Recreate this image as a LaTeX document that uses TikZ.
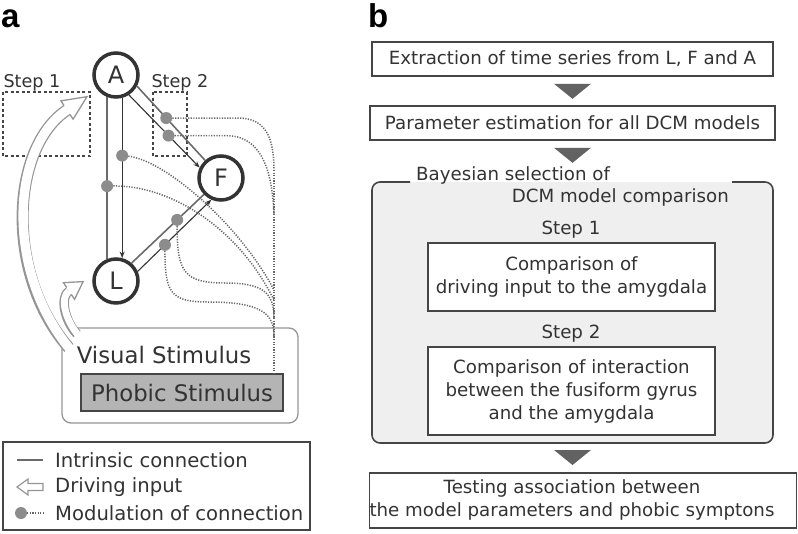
\documentclass[tikz,border=0pt]{standalone}
\usepackage{fontspec}
\setmainfont{DejaVu Sans}
\newfontfamily\labfont{Liberation Sans}
\usetikzlibrary{calc,arrows.meta}
\definecolor{ink}{HTML}{333333}
\definecolor{edge}{HTML}{454545}
\definecolor{agray}{HTML}{959595}
\definecolor{dotc}{HTML}{8C8C8C}
\definecolor{modc}{HTML}{666666}
\definecolor{bgfill}{HTML}{EFEFEF}
\definecolor{phob}{HTML}{B4B4B4}
\definecolor{tri}{HTML}{626262}
\definecolor{plainc}{HTML}{6A6A6A}
\newcommand\drivehead[5]{%
  \fill[white] ($(#2)!#4!90:(#1)$) -- ($(#2)!-#3!(#1)$) -- ($(#2)!#4!-90:(#1)$) -- cycle;
  \draw[agray, line width=1.3pt, line join=miter]
    ($(#2)!#5!90:(#1)$) -- ($(#2)!#4!90:(#1)$) -- ($(#2)!-#3!(#1)$) -- ($(#2)!#4!-90:(#1)$) -- ($(#2)!#5!-90:(#1)$);}
\begin{document}
\begin{tikzpicture}[x=1pt,y=-1pt,
  region/.style={circle, draw=ink, line width=3.5pt, minimum size=44pt, inner sep=0pt, fill=white,
    font=\fontsize{24}{24}\selectfont, text=ink},
  plainline/.style={draw=plainc, line width=1.6pt},
  arrline/.style={draw=ink, line width=1.1pt, -{Stealth[length=6.5pt,width=5pt]}},
  moddot/.style={circle, fill=dotc, minimum size=12pt, inner sep=0pt},
  modline/.style={draw=modc, line width=1.5pt, dash pattern=on 1.2pt off 1.4pt},
  stepbox/.style={draw=edge, line width=1.2pt, dash pattern=on 3pt off 2.5pt},
  txt/.style={text=ink, inner sep=0pt, align=center},
  box/.style={draw=edge, line width=1.6pt, fill=white, align=center, text=ink,
    font=\fontsize{18.2}{23}\selectfont, inner sep=0pt},
  pb/.style={text=ink, inner sep=0pt, font=\fontsize{18.2}{23}\selectfont, align=center},
  lab/.style={inner sep=0pt, anchor=base west, font=\labfont\bfseries\fontsize{33}{33}\selectfont, text=black}
]
\useasboundingbox (0,0) rectangle (798,533);

% ---------------- panel labels
\node[lab] (la) at (1,27) {a};
\node[lab] (lb) at (368,27) {b};

% ---------------- panel a: step boxes
\draw[stepbox] (3,92) rectangle (90,156);
\draw[stepbox] (153,92) rectangle (187,156);
\node[txt, anchor=base, font=\fontsize{17.6}{17.6}\selectfont] (st1) at (32,87) {Step 1};
\node[txt, anchor=base, font=\fontsize{17.6}{17.6}\selectfont] (st2) at (180,87) {Step 2};

% ---------------- regions
\node[region] (A) at (116,75) {A};
\node[region] (F) at (221,178) {F};
\node[region] (L) at (116,281) {L};

% intrinsic connections
\draw[plainline] (A.-112) -- (L.112);
\draw[arrline] (A.-75) -- (L.75);
\draw[plainline] (A.-28) -- (F.132);
\draw[arrline] (A.-57) -- (F.154);
\draw[plainline] (L.49) -- (F.224);
\draw[arrline] (L.24) -- (F.246);

% ---------------- visual stimulus
\coordinate (bA0) at (69,348);
\coordinate (bA1) at (5,275);
\coordinate (bA2) at (10,148);
\coordinate (bA3) at (67,110);
\coordinate (sA0) at (77,334);
\coordinate (sA1) at (64,320);
\coordinate (sA2) at (60,297);
\coordinate (sA3) at (69,291);
\draw[agray, line width=12pt] (bA0) .. controls (bA1) and (bA2) .. (bA3);
\draw[agray, line width=9.5pt] (sA0) .. controls (sA1) and (sA2) .. (sA3);
\draw[agray, line width=1.3pt, rounded corners=9pt] (70,328) -- (298,328) -- (298,423) -- (62,423) -- (62,338);
\draw[white, line width=9.4pt, shorten <=-6pt] (bA0) .. controls (bA1) and (bA2) .. (bA3);
\draw[white, line width=6.9pt, shorten <=-6pt] (sA0) .. controls (sA1) and (sA2) .. (sA3);
\drivehead{bA2}{bA3}{24pt}{11pt}{5.35pt}
\drivehead{sA2}{sA3}{17pt}{10pt}{4.1pt}

\node[txt, font=\fontsize{22.8}{22.8}\selectfont] (vis) at (164,355) {Visual Stimulus};
\node[draw=edge, line width=1.2pt, fill=phob, text=ink, inner sep=0pt, minimum width=202pt, minimum height=37pt,
  font=\fontsize{22.8}{22.8}\selectfont] (ph) at (182,392.5) {Phobic Stimulus};

% ---------------- modulations
\node[moddot] (m1) at ($(A.-28)!0.43!(F.132)$) {};
\node[moddot] (m2) at ($(A.-57)!0.56!(F.154)$) {};
\node[moddot] (m3) at ($(A.-75)!0.36!(L.75)$) {};
\node[moddot] (m4) at ($(A.-112)!0.55!(L.112)$) {};
\node[moddot] (m5) at ($(L.49)!0.63!(F.224)$) {};
\node[moddot] (m6) at ($(L.24)!0.37!(F.246)$) {};
\coordinate (vtop) at (274,170);
\coordinate (vbot) at (ph.north -| vtop);
\coordinate (j2) at (274,215);
\coordinate (j3) at (274,290);
\coordinate (j4) at (274,300);
\coordinate (j5) at (274,318);
\coordinate (j6) at (274,336);
\draw[modline] (m1) -- (238,118) .. controls (266,118) and (274,138) .. (vtop);
\draw[modline] (m2) -- (226,135.6) .. controls (256,135.6) and (272,160) .. (j2);
\draw[modline] (m3) .. controls (165,160) and (240,225) .. (j3);
\draw[modline] (m4) .. controls (165,185) and (235,222) .. (j4);
\draw[modline] (m5) .. controls (177,272) and (184,283) .. (225,283) .. controls (262,283) and (274,292) .. (j5);
\draw[modline] (m6) .. controls (165,292) and (170,302) .. (208,302) .. controls (262,302) and (274,314) .. (j6);
\draw[modline] (vtop) -- (vbot);

% ---------------- legend
\draw[edge, line width=1.3pt] (3,442) rectangle (310,530);
\coordinate (g1a) at (17,460); \coordinate (g1b) at (43,460);
\draw[plainline] (g1a) -- (g1b);
\draw[agray, line width=1.2pt, fill=white] (17,487) -- (28,479) -- (28,483.5) -- (43,483.5) -- (43,490.5) -- (28,490.5) -- (28,495) -- cycle;
\node[moddot] (gd) at (21,513) {};
\coordinate (gde) at (44,513);
\draw[modline] (gd) -- (gde);
\node[txt, anchor=west, font=\fontsize{19.6}{19.6}\selectfont] (lg1) at (55,460) {Intrinsic connection};
\node[txt, anchor=west, font=\fontsize{19.6}{19.6}\selectfont] (lg2) at (55,487) {Driving input};
\node[txt, anchor=west, font=\fontsize{19.6}{19.6}\selectfont] (lg3) at (55,513) {Modulation of connection};

% ---------------- panel b
\node[box, minimum width=401pt, minimum height=34pt] (b1) at (572.5,59) {Extraction of time series from L, F and A};
\node[box, minimum width=405pt, minimum height=34pt] (b2) at (572.5,123) {Parameter estimation for all DCM models};
\fill[tri] ($(b1.south)+(-18.5,7)$) -- ($(b1.south)+(18.5,7)$) -- ($(b1.south)+(0,22)$) -- cycle;
\fill[tri] ($(b2.south)+(-18.5,7)$) -- ($(b2.south)+(18.5,7)$) -- ($(b2.south)+(0,22)$) -- cycle;

\fill[bgfill, rounded corners=8pt] (372,182) rectangle (773,443);
\draw[edge, line width=1.6pt, rounded corners=8pt] (410,182) -- (372,182) -- (372,443) -- (773,443) -- (773,182) -- (732,182);
\node[pb, anchor=west] (bt1) at (416,175) {Bayesian selection of};
\node[pb, anchor=east] (bt2) at (729,197) {DCM model comparison};
\coordinate (bigS) at (572.5,443);

\node[pb] (s1) at (571,230) {Step 1};
\node[box, minimum width=287pt, minimum height=68pt] (c1) at (571.5,277) {Comparison of\\driving input to the amygdala};
\node[pb] (s2) at (571,334) {Step 2};
\node[box, minimum width=287pt, minimum height=88pt] (c2) at (571.5,391) {Comparison of interaction\\between the fusiform gyrus\\and the amygdala};

\fill[tri] ($(bigS)+(-18.5,7)$) -- ($(bigS)+(18.5,7)$) -- ($(bigS)+(0,22)$) -- cycle;
\node[box, minimum width=427pt, minimum height=55pt] (b4) at (583,500.5) {};
\node[pb] (b4t) at (572,500) {Testing association between\\the model parameters and phobic symptons};
\end{tikzpicture}
\end{document}
